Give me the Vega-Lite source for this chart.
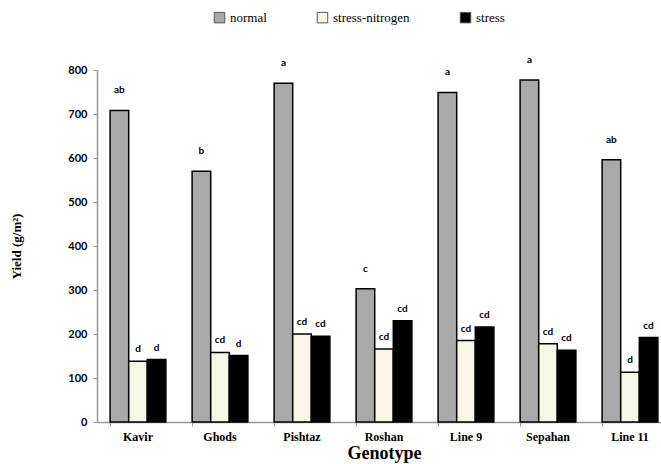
{
  "$schema": "https://vega.github.io/schema/vega-lite/v6.json",
  "autosize": "none",
  "width": 574,
  "height": 352,
  "padding": {"left": 97, "top": 70, "right": 0, "bottom": 42},
  "background": "white",
  "config": {"view": {"stroke": null}},
  "data": {
    "values": [
      {"genotype": "Kavir", "treatment": "normal", "yield": 708, "letter": "ab"},
      {"genotype": "Kavir", "treatment": "stress-nitrogen", "yield": 138, "letter": "d"},
      {"genotype": "Kavir", "treatment": "stress", "yield": 142, "letter": "d"},
      {"genotype": "Ghods", "treatment": "normal", "yield": 570, "letter": "b"},
      {"genotype": "Ghods", "treatment": "stress-nitrogen", "yield": 158, "letter": "cd"},
      {"genotype": "Ghods", "treatment": "stress", "yield": 151, "letter": "d"},
      {"genotype": "Pishtaz", "treatment": "normal", "yield": 770, "letter": "a"},
      {"genotype": "Pishtaz", "treatment": "stress-nitrogen", "yield": 200, "letter": "cd"},
      {"genotype": "Pishtaz", "treatment": "stress", "yield": 195, "letter": "cd"},
      {"genotype": "Roshan", "treatment": "normal", "yield": 303, "letter": "c"},
      {"genotype": "Roshan", "treatment": "stress-nitrogen", "yield": 166, "letter": "cd"},
      {"genotype": "Roshan", "treatment": "stress", "yield": 230, "letter": "cd"},
      {"genotype": "Line 9", "treatment": "normal", "yield": 749, "letter": "a"},
      {"genotype": "Line 9", "treatment": "stress-nitrogen", "yield": 185, "letter": "cd"},
      {"genotype": "Line 9", "treatment": "stress", "yield": 216, "letter": "cd"},
      {"genotype": "Sepahan", "treatment": "normal", "yield": 777, "letter": "a"},
      {"genotype": "Sepahan", "treatment": "stress-nitrogen", "yield": 178, "letter": "cd"},
      {"genotype": "Sepahan", "treatment": "stress", "yield": 163, "letter": "cd"},
      {"genotype": "Line 11", "treatment": "normal", "yield": 596, "letter": "ab"},
      {"genotype": "Line 11", "treatment": "stress-nitrogen", "yield": 113, "letter": "d"},
      {"genotype": "Line 11", "treatment": "stress", "yield": 192, "letter": "cd"}
    ]
  },
  "encoding": {
    "x": {
      "field": "genotype",
      "type": "nominal",
      "sort": ["Kavir", "Ghods", "Pishtaz", "Roshan", "Line 9", "Sepahan", "Line 11"],
      "scale": {"paddingInner": 0.32, "paddingOuter": 0.16},
      "axis": {
        "title": "Genotype",
        "titleFont": "Liberation Serif",
        "titleFontSize": 18,
        "titleFontWeight": "bold",
        "titleColor": "black",
        "titlePadding": 2,
        "titleBaseline": "top",
        "labelFont": "Liberation Serif",
        "labelFontSize": 12,
        "labelFontWeight": "bold",
        "labelColor": "black",
        "labelAngle": 0,
        "labelPadding": 5,
        "domainColor": "#999999",
        "domainWidth": 1.5,
        "tickColor": "#999999",
        "tickSize": 4,
        "bandPosition": 0
      }
    },
    "xOffset": {
      "field": "treatment",
      "type": "nominal",
      "sort": ["normal", "stress-nitrogen", "stress"],
      "scale": {"paddingInner": 0, "paddingOuter": 0}
    },
    "y": {
      "field": "yield",
      "type": "quantitative",
      "scale": {"domain": [0, 800], "nice": false},
      "axis": {
        "title": "Yield (g/m²)",
        "titleFont": "Liberation Serif",
        "titleFontSize": 13,
        "titleFontWeight": "bold",
        "titleColor": "black",
        "titlePadding": 44,
        "values": [0, 100, 200, 300, 400, 500, 600, 700, 800],
        "grid": false,
        "labelFont": "Lato",
        "labelFontSize": 11,
        "labelFontWeight": "bold",
        "labelColor": "black",
        "labelPadding": 6,
        "domainColor": "#999999",
        "domainWidth": 1.5,
        "tickColor": "#999999",
        "tickSize": 4
      }
    }
  },
  "layer": [
    {
      "mark": {"type": "bar", "stroke": "black", "strokeWidth": 1.5},
      "encoding": {
        "color": {
          "field": "treatment",
          "type": "nominal",
          "sort": ["normal", "stress-nitrogen", "stress"],
          "scale": {
            "domain": ["normal", "stress-nitrogen", "stress"],
            "range": ["#a9a9a9", "#f8f6e8", "#000000"]
          },
          "legend": {
            "title": null,
            "orient": "none",
            "direction": "horizontal",
            "legendX": 116,
            "legendY": -59,
            "labelFont": "Liberation Serif",
            "labelFontSize": 13,
            "labelColor": "black",
            "symbolType": "square",
            "symbolSize": 110,
            "symbolStrokeColor": "#555555",
            "symbolStrokeWidth": 1,
            "symbolOpacity": 1,
            "columnPadding": 48,
            "labelOffset": 4
          }
        }
      }
    },
    {
      "transform": [{"filter": "datum.treatment === 'normal'"}],
      "mark": {"type": "text", "dy": -20, "font": "Lato", "fontSize": 10, "fontWeight": "bold", "color": "black"},
      "encoding": {"text": {"field": "letter"}}
    },
    {
      "transform": [{"filter": "datum.treatment !== 'normal'"}],
      "mark": {"type": "text", "dy": -12, "font": "Lato", "fontSize": 10, "fontWeight": "bold", "color": "black"},
      "encoding": {"text": {"field": "letter"}}
    }
  ]
}
